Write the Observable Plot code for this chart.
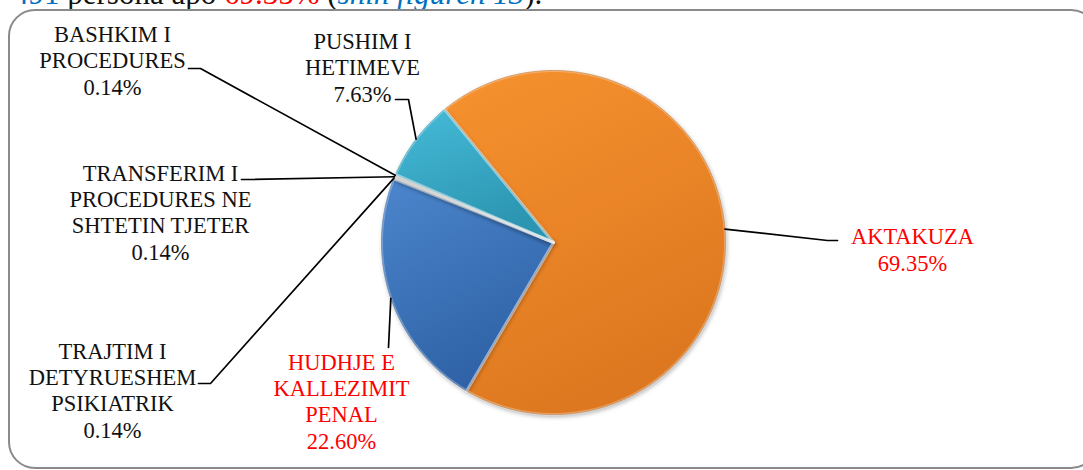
<!DOCTYPE html>
<html>
<head>
<meta charset="utf-8">
<script src="https://cdn.jsdelivr.net/npm/d3@7"></script>
<script src="https://cdn.jsdelivr.net/npm/@observablehq/plot@0.6"></script>
<style>
  html, body { margin: 0; padding: 0; background: #fff; overflow: hidden; }
  #wrap { position: relative; width: 1083px; height: 470px; overflow: hidden; }
  #topline { position: absolute; left: 13px; top: -22px; white-space: nowrap;
    font-family: "Liberation Serif", serif; font-size: 31px; line-height: 31px; color: #111; }
  #frame { position: absolute; left: 8px; top: 9px; width: 1086px; height: 456px;
    border: 2px solid #8a8a8a; border-radius: 27px; pointer-events: none; }
  #chart { position: absolute; left: 0; top: 0; }
</style>
</head>
<body>
<div id="wrap">
  <div id="topline"><span style="color:#0070C0">491</span> persona apo <span style="color:#FF0000">69.35%</span> (<i style="color:#0070C0">shih figuren 13</i>).</div>
  <div id="chart"></div>
  <div id="frame"></div>
</div>
<script>
// ---- data ----
const categories = [
  "AKTAKUZA",
  "HUDHJE E\nKALLEZIMIT\nPENAL",
  "TRAJTIM I\nDETYRUESHEM\nPSIKIATRIK",
  "TRANSFERIM I\nPROCEDURES NE\nSHTETIN TJETER",
  "BASHKIM I\nPROCEDURES",
  "PUSHIM I\nHETIMEVE"
];
const values = [69.35, 22.60, 0.14, 0.14, 0.14, 7.63];

// ---- styles / layout ----
const sliceColors = [
  ["#F7922F", "#DE7820"],
  ["#4C86CC", "#2F62A6"],
  ["#C9C9C9", "#A9A9A9"],
  ["#C9C9C9", "#A9A9A9"],
  ["#C9C9C9", "#A9A9A9"],
  ["#45BBD8", "#2C95B1"]
];
const edgeColors = ["#B8651C", "#2A5590", "#999999", "#999999", "#999999", "#2A8AA3"];
const labelColors = ["#FF0000", "#FF0000", "#111", "#111", "#111", "#111"];
// label text position (x = centre, y = last baseline) and leader path (elbow points, in px)
const labelLayout = [
  {x: 912, y: 270, path: [[827, 240], [837, 240]]},
  {x: 341, y: 448, path: [[388, 347]]},
  {x: 112, y: 437, path: [[210, 383], [198, 383]]},
  {x: 160, y: 259, path: [[248, 179], [241, 179]]},
  {x: 112, y: 94,  path: [[200, 68], [188, 68]]},
  {x: 362, y: 101, path: [[408, 99], [395, 99]]}
];
const cx = 553, cy = 242, R = 172;
const startDeg = -39.3;

const W = 1083, H = 470;
const pie = d3.pie().sort(null).value(d => d)
  .startAngle(startDeg * Math.PI / 180)
  .endAngle(startDeg * Math.PI / 180 + 2 * Math.PI)(values);

const pt = (a, r = R) => [cx + r * Math.sin(a), cy - r * Math.cos(a)];

const slices = pie.map((p, i) => {
  const n = Math.max(2, Math.ceil((p.endAngle - p.startAngle) / (0.5 * Math.PI / 180)));
  const arc = d3.range(n + 1).map(k => pt(p.startAngle + (p.endAngle - p.startAngle) * k / n));
  return [[cx, cy], ...arc, [cx, cy]];
});

const leaders = pie.map((p, i) => {
  const mid = (p.startAngle + p.endAngle) / 2;
  return [pt(mid), ...labelLayout[i].path];
});

const labelData = pie.map((p, i) => ({
  text: categories[i] + "\n" + values[i].toFixed(2) + "%",
  x: labelLayout[i].x, y: labelLayout[i].y, color: labelColors[i]
}));

const marks = [];
slices.forEach((s, i) => {
  marks.push(Plot.line(s, {x: d => d[0], y: d => d[1], fill: `url(#g${i})`, stroke: edgeColors[i], strokeWidth: 0.8, strokeLinejoin: "round", curve: "linear"}));
});
// bevel highlight along the slice edges
slices.forEach((s, i) => {
  marks.push(Plot.line(s, {x: d => d[0], y: d => d[1], stroke: "#ffffff", strokeOpacity: 0.28, strokeWidth: 3, strokeLinejoin: "round", curve: "linear"}));
});
leaders.forEach(l => {
  marks.push(Plot.line(l, {x: d => d[0], y: d => d[1], stroke: "#000", strokeWidth: 1.7}));
});
labelData.forEach(d => {
  marks.push(Plot.text([d], {x: "x", y: "y", text: "text", fill: d.color, fontSize: 22.5, lineHeight: 1.17, lineAnchor: "bottom", textAnchor: "middle"}));
});

const svg = Plot.plot({
  width: W, height: H, margin: 0,
  x: {domain: [0, W], range: [0, W], axis: null},
  y: {domain: [0, H], range: [0, H], axis: null},
  style: {fontFamily: "'Liberation Serif', serif", background: "transparent", overflow: "visible"},
  marks
});

// gradients
const ns = "http://www.w3.org/2000/svg";
const defs = document.createElementNS(ns, "defs");
sliceColors.forEach((c, i) => {
  const g = document.createElementNS(ns, "linearGradient");
  g.setAttribute("id", "g" + i);
  g.setAttribute("x1", "0"); g.setAttribute("y1", "0");
  g.setAttribute("x2", "0.4"); g.setAttribute("y2", "1");
  [[0, c[0]], [1, c[1]]].forEach(([o, col]) => {
    const s = document.createElementNS(ns, "stop");
    s.setAttribute("offset", o); s.setAttribute("stop-color", col);
    g.appendChild(s);
  });
  defs.appendChild(g);
});
svg.insertBefore(defs, svg.firstChild);
svg.querySelectorAll("g[fill^='url']").forEach(g => {
  g.style.filter = "drop-shadow(1px 2px 2px rgba(0,0,0,0.3))";
});
document.getElementById("chart").appendChild(svg);
</script>
</body>
</html>
